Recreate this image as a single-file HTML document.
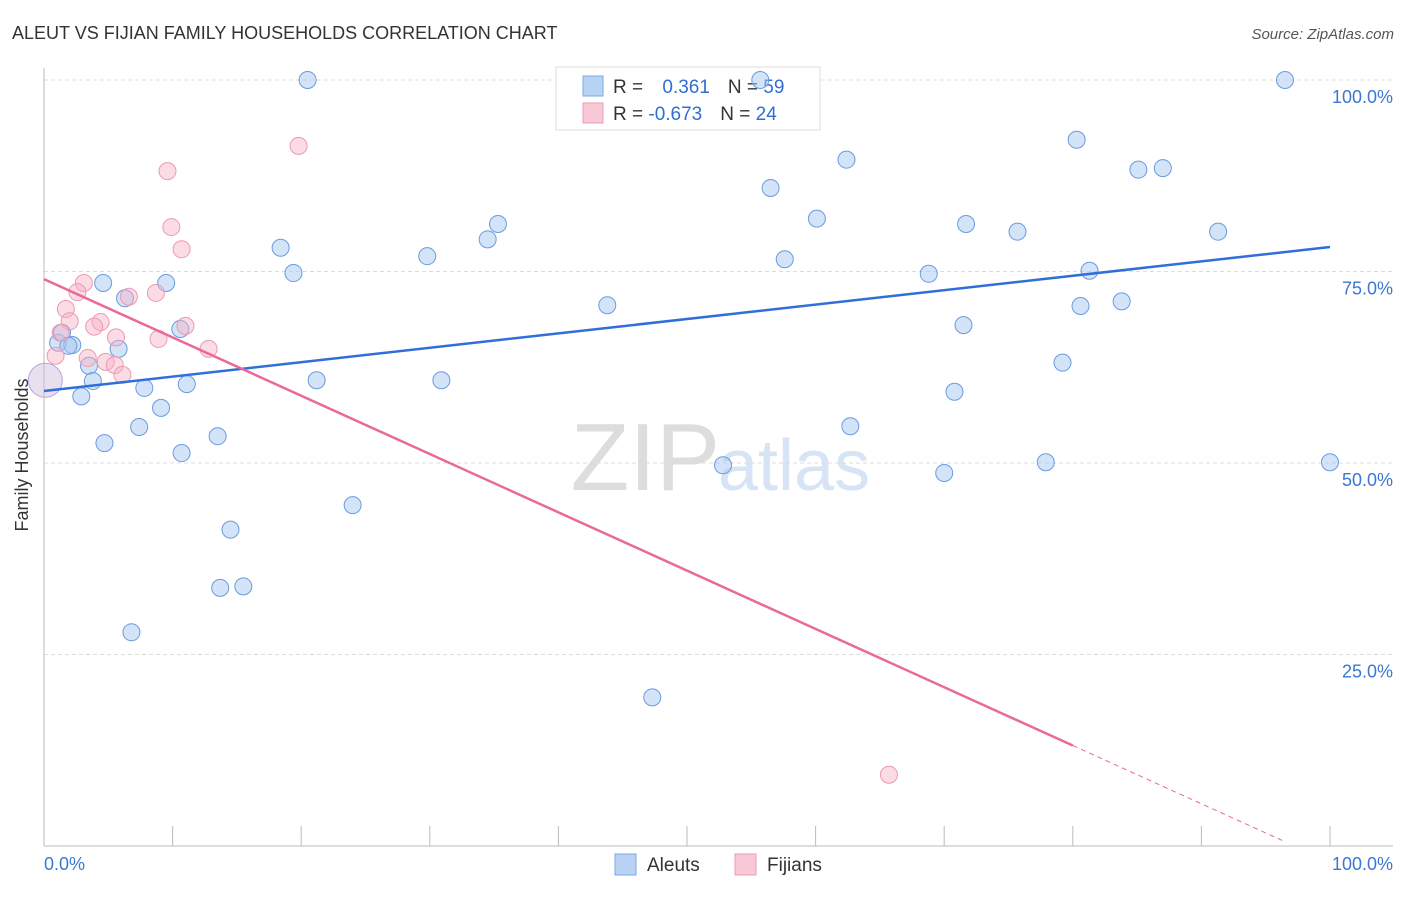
<!DOCTYPE html>
<html><head><meta charset="utf-8"><style>
body{margin:0;background:#fff;font-family:"Liberation Sans",sans-serif}
svg text{font-family:"Liberation Sans",sans-serif}
</style></head><body>
<svg id="c" width="1406" height="892">
<text x="12" y="39" font-size="18" fill="#333">ALEUT VS FIJIAN FAMILY HOUSEHOLDS CORRELATION CHART</text>
<text x="1394" y="39" font-size="15" fill="#555" font-style="italic" text-anchor="end">Source: ZipAtlas.com</text>
<text x="28" y="455" font-size="18" fill="#333" text-anchor="middle" transform="rotate(-90 28 455)">Family Households</text>
<text x="720" y="490" font-size="96" fill="#ddd" text-anchor="end" font-family="Liberation Serif">ZIP</text>
<text x="718" y="490" font-size="72" fill="#d6e4f5">atlas</text>
<g id="grid"></g>
<g>
<rect x="556" y="67" width="264" height="63" fill="#fff" stroke="#ddd"/>
<rect x="583" y="76" width="20" height="20" fill="#b9d3f5" stroke="#7aa8e3"/>
<rect x="583" y="103" width="20" height="20" fill="#f8c8d6" stroke="#ec9cb4"/>
<text x="613" y="93" font-size="19" fill="#333">R = <tspan fill="#2f6fd0" dx="14">0.361</tspan><tspan fill="#333" dx="18">N = </tspan><tspan fill="#2f6fd0">59</tspan></text>
<text x="613" y="120" font-size="19" fill="#333">R = <tspan fill="#2f6fd0">-0.673</tspan><tspan fill="#333" dx="18">N = </tspan><tspan fill="#2f6fd0">24</tspan></text>
</g>
<g id="marks"></g>
<g>
<rect x="615" y="854" width="21" height="21" fill="#b9d3f5" stroke="#7aa8e3"/>
<text x="647" y="871" font-size="19" fill="#333">Aleuts</text>
<rect x="735" y="854" width="21" height="21" fill="#f8c8d6" stroke="#ec9cb4"/>
<text x="767" y="871" font-size="19" fill="#333">Fijians</text>
</g>
</svg>
<script>
const blueX=[20.5,55.7,96.5,80.3,62.4,85.1,87.0,56.5,60.1,71.7,35.3,34.5,75.7,91.3,18.4,29.8,57.6,19.4,68.8,81.3,9.5,4.6,6.3,43.8,80.6,83.8,71.5,10.6,1.1,1.4,2.2,1.9,5.8,79.2,3.5,3.8,21.2,30.9,11.1,7.8,2.9,70.8,9.1,7.4,62.7,13.5,4.7,10.7,52.8,77.9,100,70.0,24.0,14.5,15.5,13.7,6.8,47.3];
const blueY=[100,100,100,92.2,89.6,88.3,88.5,85.9,81.9,81.2,81.2,79.2,80.2,80.2,78.1,77.0,76.6,74.8,74.7,75.1,73.5,73.5,71.5,70.6,70.5,71.1,68.0,67.5,65.7,67.0,65.4,65.3,64.9,63.1,62.7,60.7,60.8,60.8,60.3,59.8,58.7,59.3,57.2,54.7,54.8,53.5,52.6,51.3,49.7,50.1,50.1,48.7,44.5,41.3,33.9,33.7,27.9,19.4];
const pinkX=[19.8,9.6,9.9,10.7,3.1,2.6,8.7,6.6,1.7,2.0,4.4,3.9,11.0,1.3,8.9,5.6,12.8,0.9,3.4,4.8,5.5,6.1,65.7];
const pinkY=[91.4,88.1,80.8,77.9,73.5,72.3,72.2,71.7,70.1,68.5,68.4,67.8,67.9,67.0,66.2,66.4,64.9,64.0,63.7,63.2,62.8,61.5,9.3];
const bigPoint=[0.1,60.8];
const blueTrend=[59.4,78.2];
const pinkTrend=[74.0,-0.761];
const yTicks=[25,50,75,100];
const yTickLabels=["25.0%","50.0%","75.0%","100.0%"];
const xTicks=[0,10,20,30,40,50,60,70,80,90,100];
const NS="http://www.w3.org/2000/svg";
const sx=v=>44+v*12.86, sy=v=>846-v*7.66;
function mk(t,a,p){const e=document.createElementNS(NS,t);for(const k in a)e.setAttribute(k,a[k]);p.appendChild(e);return e;}
const g=document.getElementById('grid'),m=document.getElementById('marks');
yTicks.forEach((v,i)=>{
 const l=mk('line',{x1:44,x2:1393,y1:sy(v),y2:sy(v),stroke:'#ddd','stroke-dasharray':'4,3'},g);
 
 
 const t=mk('text',{x:1393,y:sy(v)+23,'font-size':18,fill:'#3a78d4','text-anchor':'end'},g);
 t.textContent=yTickLabels[i];
 
 
});
mk('line',{x1:44,x2:44,y1:68,y2:846,stroke:'#bbb'},g);
mk('line',{x1:44,x2:1393,y1:846,y2:846,stroke:'#bbb'},g);
xTicks.forEach(v=>{const l=mk('line',{x1:sx(v),x2:sx(v),y1:826,y2:846,stroke:'#bbb'},g);
 
 });
[["0.0%",44,"start"],["100.0%",1393,"end"]].forEach(a=>{const t=mk('text',{x:a[1],y:870,'font-size':18,fill:'#3a78d4','text-anchor':a[2]},g);t.textContent=a[0];
 
 });
const bf='rgba(168,200,242,0.5)',bs='#6a9be0',pf='rgba(246,178,198,0.45)',ps='#eb9ab2';
blueX.forEach((x,i)=>{const c=mk('circle',{cx:sx(x),cy:sy(blueY[i]),r:8.5,fill:bf,stroke:bs,'stroke-width':1},m);
 
 });
pinkX.forEach((x,i)=>{const c=mk('circle',{cx:sx(x),cy:sy(pinkY[i]),r:8.5,fill:pf,stroke:ps,'stroke-width':1},m);
 
 });
const big=mk('circle',{cx:sx(bigPoint[0]),cy:sy(bigPoint[1]),r:17,fill:'rgba(205,185,220,0.45)',stroke:'#b8a4dc'},m);


const bl=mk('line',{x1:sx(0),y1:sy(blueTrend[0]),x2:sx(100),y2:sy(blueTrend[1]),stroke:'#2f6fd8','stroke-width':2.5},m);


const py=x=>pinkTrend[0]+pinkTrend[1]*x;
const pl=mk('line',{x1:sx(0),y1:sy(py(0)),x2:sx(80),y2:sy(py(80)),stroke:'#e86a96','stroke-width':2.5},m);


const pd=mk('line',{x1:sx(80),y1:sy(py(80)),x2:sx(96.3),y2:sy(py(96.3)),stroke:'#e86a96','stroke-width':1,'stroke-dasharray':'5,4'},m);


</script>
</body></html>
